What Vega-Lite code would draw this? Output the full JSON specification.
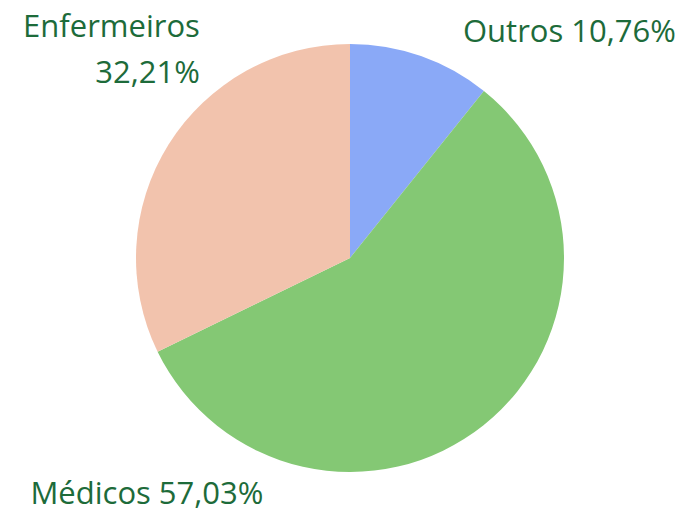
{
  "$schema": "https://vega.github.io/schema/vega-lite/v6.json",
  "width": 690,
  "height": 513,
  "autosize": {"type": "fit", "contains": "padding"},
  "padding": {"left": 10, "top": 3, "right": 0, "bottom": 0},
  "background": "white",
  "config": {"view": {"stroke": null}},
  "data": {
    "values": [
      {"categoria": "Outros", "percentual": 10.76},
      {"categoria": "Médicos", "percentual": 57.03},
      {"categoria": "Enfermeiros", "percentual": 32.21}
    ]
  },
  "transform": [
    {"calculate": "replace(format(datum.percentual, '.2f'), '.', ',') + '%'", "as": "pct"}
  ],
  "layer": [
    {
      "mark": {"type": "arc", "outerRadius": 214},
      "encoding": {
        "theta": {"field": "percentual", "type": "quantitative", "stack": true},
        "order": {"field": "categoria", "type": "nominal", "sort": "descending"},
        "color": {
          "field": "categoria",
          "type": "nominal",
          "scale": {"domain": ["Outros", "Médicos", "Enfermeiros"], "range": ["#8aa9f7", "#84c874", "#f2c3ad"]},
          "legend": null
        }
      }
    },
    {
      "transform": [
        {"filter": "datum.categoria === 'Outros'"},
        {"calculate": "datum.categoria + ' ' + datum.pct", "as": "rotulo"}
      ],
      "mark": {"type": "text", "theta": 0.3369, "radius": 242, "align": "left", "baseline": "alphabetic", "dx": 33, "dy": 12, "font": "Open Sans", "fontSize": 31, "color": "#1d6b3a"},
      "encoding": {"text": {"field": "rotulo", "type": "nominal"}}
    },
    {
      "transform": [
        {"filter": "datum.categoria === 'Médicos'"},
        {"calculate": "datum.categoria + ' ' + datum.pct", "as": "rotulo"}
      ],
      "mark": {"type": "text", "theta": 3.3615, "radius": 241, "align": "right", "baseline": "alphabetic", "dx": -34, "dy": 11, "font": "Open Sans", "fontSize": 31, "color": "#1d6b3a"},
      "encoding": {"text": {"field": "rotulo", "type": "nominal"}}
    },
    {
      "transform": [
        {"filter": "datum.categoria === 'Enfermeiros'"},
        {"calculate": "datum.categoria + '\\n' + datum.pct", "as": "rotulo"}
      ],
      "mark": {"type": "text", "theta": 5.7805, "radius": 241, "align": "right", "baseline": "alphabetic", "dx": -34, "dy": -10, "lineBreak": "\n", "lineHeight": 46, "font": "Open Sans", "fontSize": 31, "color": "#1d6b3a"},
      "encoding": {"text": {"field": "rotulo", "type": "nominal"}}
    }
  ]
}
